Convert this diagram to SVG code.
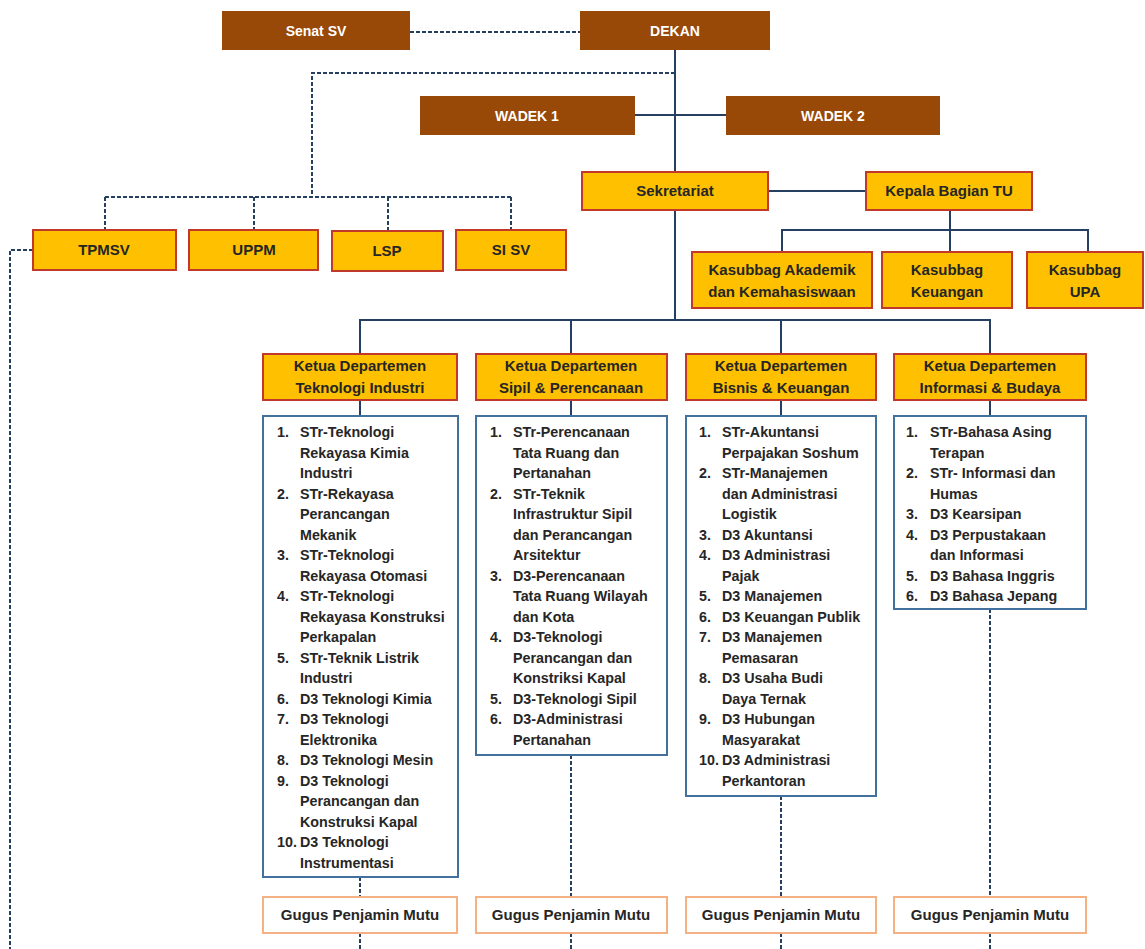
<svg xmlns="http://www.w3.org/2000/svg" width="1145" height="949" viewBox="0 0 1145 949">
<style>
.brown{fill:#984807;}
.yel{fill:#FFC000;stroke:#C0392B;stroke-width:2;}
.list{fill:#FFFFFF;stroke:#41719C;stroke-width:2;}
.gugus{fill:#FFFFFF;stroke:#F4B183;stroke-width:2;}
.solid{fill:none;stroke:#243F60;stroke-width:2;}
.dash{fill:none;stroke:#243F60;stroke-width:2;stroke-dasharray:4 2;}
.wt{font-family:"Liberation Sans",Arial,sans-serif;font-weight:bold;font-size:14px;fill:#FFFFFF;text-anchor:middle;}
.dt{font-family:"Liberation Sans",Arial,sans-serif;font-weight:bold;font-size:15px;fill:#262626;text-anchor:middle;}
.lt{font-family:"Liberation Sans",Arial,sans-serif;font-weight:bold;font-size:14.3px;fill:#262626;}
</style>
<rect width="1145" height="949" fill="#FFFFFF"/>
<g id="connectors">
<path class="dash" d="M410,32 H580"/>
<path class="solid" d="M675,50 V320"/>
<path class="dash" d="M675,73 H312 V197"/>
<path class="dash" d="M105,197 H512"/>
<path class="dash" d="M105,197 V230 M254,197 V230 M388,197 V231 M511,197 V230"/>
<path class="dash" d="M33,250 H10 V949"/>
<path class="solid" d="M635,115 H726"/>
<path class="solid" d="M768,191 H866"/>
<path class="solid" d="M950,210 V252 M782,252 V230 H1088 V252"/>
<path class="solid" d="M360,354 V320 H990 V354 M571,320 V354 M781,320 V354"/>
<path class="solid" d="M360,400 V416 M571,400 V416 M781,400 V416 M990,400 V416"/>
<path class="dash" d="M360,877 V897 M571,755 V897 M781,796 V897 M990,609 V897"/>
<path class="dash" d="M360,933 V949 M571,933 V949 M781,933 V949 M990,933 V949"/>
</g>
<g id="senat"><rect class="brown" x="222" y="11" width="188" height="39"/><text class="wt" x="316" y="36">Senat SV</text></g>
<g id="dekan"><rect class="brown" x="580" y="11" width="190" height="39"/><text class="wt" x="675" y="36">DEKAN</text></g>
<g id="wadek1"><rect class="brown" x="420" y="96" width="215" height="39"/><text class="wt" x="527" y="121">WADEK 1</text></g>
<g id="wadek2"><rect class="brown" x="726" y="96" width="214" height="39"/><text class="wt" x="833" y="121">WADEK 2</text></g>
<g id="sekretariat"><rect class="yel" x="582" y="172" width="186" height="38"/><text class="dt" x="675" y="196">Sekretariat</text></g>
<g id="kabag"><rect class="yel" x="866" y="172" width="166" height="38"/><text class="dt" x="949" y="196">Kepala Bagian TU</text></g>
<g id="kasubbag-akademik"><rect class="yel" x="692" y="252" width="180" height="56"/><text class="dt" x="782" y="275">Kasubbag Akademik</text><text class="dt" x="782" y="297">dan Kemahasiswaan</text></g>
<g id="kasubbag-keuangan"><rect class="yel" x="882" y="252" width="130" height="56"/><text class="dt" x="947" y="275">Kasubbag</text><text class="dt" x="947" y="297">Keuangan</text></g>
<g id="kasubbag-upa"><rect class="yel" x="1027" y="252" width="116" height="56"/><text class="dt" x="1085" y="275">Kasubbag</text><text class="dt" x="1085" y="297">UPA</text></g>
<g id="tpmsv"><rect class="yel" x="33" y="230" width="143" height="40"/><text class="dt" x="104" y="255">TPMSV</text></g>
<g id="uppm"><rect class="yel" x="189" y="230" width="129" height="40"/><text class="dt" x="254" y="255">UPPM</text></g>
<g id="lsp"><rect class="yel" x="332" y="231" width="111" height="40"/><text class="dt" x="387" y="256">LSP</text></g>
<g id="sisv"><rect class="yel" x="456" y="230" width="110" height="40"/><text class="dt" x="511" y="255">SI SV</text></g>
<g id="dept-ti"><rect class="yel" x="263" y="354" width="194" height="46"/><text class="dt" x="360" y="371">Ketua Departemen</text><text class="dt" x="360" y="393">Teknologi Industri</text></g>
<g id="dept-sp"><rect class="yel" x="476" y="354" width="191" height="46"/><text class="dt" x="571" y="371">Ketua Departemen</text><text class="dt" x="571" y="393">Sipil &amp; Perencanaan</text></g>
<g id="dept-bk"><rect class="yel" x="686" y="354" width="190" height="46"/><text class="dt" x="781" y="371">Ketua Departemen</text><text class="dt" x="781" y="393">Bisnis &amp; Keuangan</text></g>
<g id="dept-ib"><rect class="yel" x="894" y="354" width="192" height="46"/><text class="dt" x="990" y="371">Ketua Departemen</text><text class="dt" x="990" y="393">Informasi &amp; Budaya</text></g>
<g id="list-ti"><rect class="list" x="263" y="416" width="195" height="461"/>
<text class="lt">
<tspan x="277" y="437">1.</tspan><tspan x="300">STr-Teknologi</tspan>
<tspan x="300" y="457.5">Rekayasa Kimia</tspan>
<tspan x="300" y="478">Industri</tspan>
<tspan x="277" y="498.5">2.</tspan><tspan x="300">STr-Rekayasa</tspan>
<tspan x="300" y="519">Perancangan</tspan>
<tspan x="300" y="539.5">Mekanik</tspan>
<tspan x="277" y="560">3.</tspan><tspan x="300">STr-Teknologi</tspan>
<tspan x="300" y="580.5">Rekayasa Otomasi</tspan>
<tspan x="277" y="601">4.</tspan><tspan x="300">STr-Teknologi</tspan>
<tspan x="300" y="621.5">Rekayasa Konstruksi</tspan>
<tspan x="300" y="642">Perkapalan</tspan>
<tspan x="277" y="662.5">5.</tspan><tspan x="300">STr-Teknik Listrik</tspan>
<tspan x="300" y="683">Industri</tspan>
<tspan x="277" y="703.5">6.</tspan><tspan x="300">D3 Teknologi Kimia</tspan>
<tspan x="277" y="724">7.</tspan><tspan x="300">D3 Teknologi</tspan>
<tspan x="300" y="744.5">Elektronika</tspan>
<tspan x="277" y="765">8.</tspan><tspan x="300">D3 Teknologi Mesin</tspan>
<tspan x="277" y="785.5">9.</tspan><tspan x="300">D3 Teknologi</tspan>
<tspan x="300" y="806">Perancangan dan</tspan>
<tspan x="300" y="826.5">Konstruksi Kapal</tspan>
<tspan x="277" y="847">10.</tspan><tspan x="300">D3 Teknologi</tspan>
<tspan x="300" y="867.5">Instrumentasi</tspan>
</text></g>
<g id="list-sp"><rect class="list" x="476" y="416" width="191" height="339"/>
<text class="lt">
<tspan x="490" y="437">1.</tspan><tspan x="513">STr-Perencanaan</tspan>
<tspan x="513" y="457.5">Tata Ruang dan</tspan>
<tspan x="513" y="478">Pertanahan</tspan>
<tspan x="490" y="498.5">2.</tspan><tspan x="513">STr-Teknik</tspan>
<tspan x="513" y="519">Infrastruktur Sipil</tspan>
<tspan x="513" y="539.5">dan Perancangan</tspan>
<tspan x="513" y="560">Arsitektur</tspan>
<tspan x="490" y="580.5">3.</tspan><tspan x="513">D3-Perencanaan</tspan>
<tspan x="513" y="601">Tata Ruang Wilayah</tspan>
<tspan x="513" y="621.5">dan Kota</tspan>
<tspan x="490" y="642">4.</tspan><tspan x="513">D3-Teknologi</tspan>
<tspan x="513" y="662.5">Perancangan dan</tspan>
<tspan x="513" y="683">Konstriksi Kapal</tspan>
<tspan x="490" y="703.5">5.</tspan><tspan x="513">D3-Teknologi Sipil</tspan>
<tspan x="490" y="724">6.</tspan><tspan x="513">D3-Administrasi</tspan>
<tspan x="513" y="744.5">Pertanahan</tspan>
</text></g>
<g id="list-bk"><rect class="list" x="686" y="416" width="190" height="380"/>
<text class="lt">
<tspan x="699" y="437">1.</tspan><tspan x="722">STr-Akuntansi</tspan>
<tspan x="722" y="457.5">Perpajakan Soshum</tspan>
<tspan x="699" y="478">2.</tspan><tspan x="722">STr-Manajemen</tspan>
<tspan x="722" y="498.5">dan Administrasi</tspan>
<tspan x="722" y="519">Logistik</tspan>
<tspan x="699" y="539.5">3.</tspan><tspan x="722">D3 Akuntansi</tspan>
<tspan x="699" y="560">4.</tspan><tspan x="722">D3 Administrasi</tspan>
<tspan x="722" y="580.5">Pajak</tspan>
<tspan x="699" y="601">5.</tspan><tspan x="722">D3 Manajemen</tspan>
<tspan x="699" y="621.5">6.</tspan><tspan x="722">D3 Keuangan Publik</tspan>
<tspan x="699" y="642">7.</tspan><tspan x="722">D3 Manajemen</tspan>
<tspan x="722" y="662.5">Pemasaran</tspan>
<tspan x="699" y="683">8.</tspan><tspan x="722">D3 Usaha Budi</tspan>
<tspan x="722" y="703.5">Daya Ternak</tspan>
<tspan x="699" y="724">9.</tspan><tspan x="722">D3 Hubungan</tspan>
<tspan x="722" y="744.5">Masyarakat</tspan>
<tspan x="699" y="765">10.</tspan><tspan x="722">D3 Administrasi</tspan>
<tspan x="722" y="785.5">Perkantoran</tspan>
</text></g>
<g id="list-ib"><rect class="list" x="894" y="416" width="192" height="193"/>
<text class="lt">
<tspan x="906" y="437">1.</tspan><tspan x="930">STr-Bahasa Asing</tspan>
<tspan x="930" y="457.5">Terapan</tspan>
<tspan x="906" y="478">2.</tspan><tspan x="930">STr- Informasi dan</tspan>
<tspan x="930" y="498.5">Humas</tspan>
<tspan x="906" y="519">3.</tspan><tspan x="930">D3 Kearsipan</tspan>
<tspan x="906" y="539.5">4.</tspan><tspan x="930">D3 Perpustakaan</tspan>
<tspan x="930" y="560">dan Informasi</tspan>
<tspan x="906" y="580.5">5.</tspan><tspan x="930">D3 Bahasa Inggris</tspan>
<tspan x="906" y="601">6.</tspan><tspan x="930">D3 Bahasa Jepang</tspan>
</text></g>
<g id="gugus-ti"><rect class="gugus" x="263" y="897" width="194" height="36"/><text class="dt" x="360" y="920">Gugus Penjamin Mutu</text></g>
<g id="gugus-sp"><rect class="gugus" x="476" y="897" width="191" height="36"/><text class="dt" x="571" y="920">Gugus Penjamin Mutu</text></g>
<g id="gugus-bk"><rect class="gugus" x="686" y="897" width="190" height="36"/><text class="dt" x="781" y="920">Gugus Penjamin Mutu</text></g>
<g id="gugus-ib"><rect class="gugus" x="894" y="897" width="192" height="36"/><text class="dt" x="990" y="920">Gugus Penjamin Mutu</text></g>
</svg>
